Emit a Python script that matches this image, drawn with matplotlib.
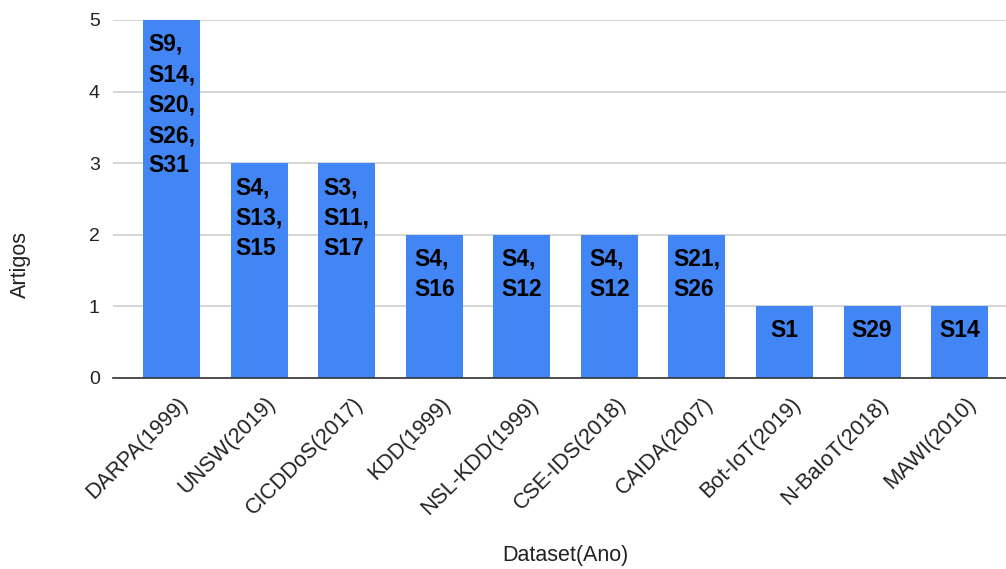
import matplotlib.pyplot as plt
import matplotlib.transforms as mtransforms
import numpy as np

plt.rcParams['font.family'] = ['Liberation Sans', 'DejaVu Sans']

datasets = ["DARPA(1999)", "UNSW(2019)", "CICDDoS(2017)", "KDD(1999)", "NSL-KDD(1999)",
            "CSE-IDS(2018)", "CAIDA(2007)", "Bot-IoT(2019)", "N-BaIoT(2018)", "MAWI(2010)"]
artigos = [5, 3, 3, 2, 2, 2, 2, 1, 1, 1]
estudos = ["S9,\nS14,\nS20,\nS26,\nS31", "S4,\nS13,\nS15", "S3,\nS11,\nS17", "S4,\nS16",
           "S4,\nS12", "S4,\nS12", "S21,\nS26", "S1", "S29", "S14"]

bar_color = "#4285F4"

fig = plt.figure(figsize=(10.06, 5.69), dpi=100)
ax = fig.add_axes([0.1123, 0.3357, 0.8877, 0.6292])

x = np.arange(len(datasets))
ax.bar(x, artigos, width=0.65, color=bar_color, zorder=2)

# study ids written inside each bar, starting just under the top
for xi, val, txt in zip(x, artigos, estudos):
    ax.annotate(txt, (xi, val), xytext=(0, -13), textcoords="offset pixels",
                ha="center", va="top", multialignment="left",
                fontsize=16.5, fontweight="bold", color="black",
                linespacing=1.41, zorder=3)

ax.set_xlim(-0.67, 9.53)
ax.set_ylim(0, 5)
ax.set_yticks(range(6))
ax.yaxis.grid(True, color="#d0d0d0", linewidth=1.2, zorder=0)
ax.tick_params(axis="y", length=0, pad=9.5, labelsize=14, labelcolor="#222222")
ax.tick_params(axis="x", length=0, pad=11, labelsize=15.5, labelcolor="#222222")
ax.set_xticks(x)
ax.set_xticklabels(datasets, rotation=45, ha="right", rotation_mode="anchor")
shift = mtransforms.ScaledTranslation(6 / 100, 0, fig.dpi_scale_trans)
for lbl in ax.get_xticklabels():
    lbl.set_transform(lbl.get_transform() + shift)

for side in ["top", "right", "left"]:
    ax.spines[side].set_visible(False)
ax.spines["bottom"].set_color("#333333")
ax.spines["bottom"].set_linewidth(1.2)
ax.spines["bottom"].set_zorder(4)

fig.text(0.02, 0.536, "Artigos", rotation=90, ha="center", va="center",
         fontsize=15.5, color="#222222")
fig.text(0.5616, 0.023, "Dataset(Ano)", ha="center", va="center",
         fontsize=15.5, color="#222222")

fig.savefig("out.png", dpi=100)
